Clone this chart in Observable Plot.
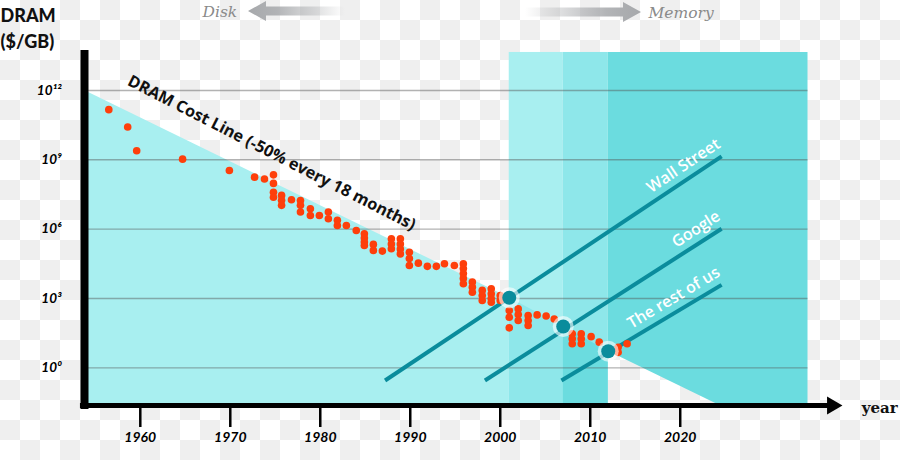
<!DOCTYPE html>
<html><head><meta charset="utf-8">
<script src="https://cdn.jsdelivr.net/npm/d3@7"></script>
<script src="https://cdn.jsdelivr.net/npm/@observablehq/plot@0.6"></script>
<style>
html,body{margin:0;padding:0;}
body{width:900px;height:460px;overflow:hidden;background-color:#fff;
  background-image:conic-gradient(#efefef 0 25%, #fff 0 50%, #efefef 0 75%, #fff 0);
  background-size:40px 40px;}
#chart svg{display:block}
</style></head>
<body><div id="chart"></div>
<script>
// ---- data (log10 of $/GB) ----
const dramYears = [1956.5, 1958.6, 1959.6, 1964.7, 1969.9, 1972.7, 1973.8, 1974.8, 1975.7, 1976.8,
  1977.8, 1978.9, 1979.9, 1980.9, 1981.9, 1982.9, 1984, 1984.9, 1985.9, 1986.9,
  1987.9, 1988.9, 1989.9, 1990.9, 1991.9, 1992.9, 1993.8, 1994.9, 1995.9, 1996.9,
  1998, 1999, 2000, 2001, 2002, 2003.1, 2004.1, 2005.1, 2006, 2008,
  2009, 2010.1, 2011, 2013.1, 2014.1];
const dramLogPrices = [[11.17],[10.42],[9.39],[9.03],[8.54],[8.25],[8.17],[8.35,7.98,7.60,7.38],[7.46,7.25,7.03],[7.27],
  [7.24,7.03,6.74],[6.88,6.59],[6.59],[6.74,6.45],[6.38,6.16],[6.16],[5.94],[5.80,5.62,5.44,5.29],[5.34,5.08],[5.05],
  [5.58,5.36,5.15],[5.58,5.36,5.14,4.93],[5.00,4.73,4.43],[4.53],[4.39],[4.39],[4.50],[4.43],[4.50,4.30,4.08,3.87,3.64],[3.71,3.49,3.27],
  [3.35,3.13,2.91],[3.42,3.20,3.00,2.84],[3.13,2.91],[2.48,2.19,1.73],[2.55,2.31,2.05],[2.26,2.05,1.83],[2.29],[2.24],[2.11],[1.47,1.26,1.04],
  [1.47,1.26,1.04],[1.35],[1.11],[0.89,0.67],[1.04]];

const costLineYears = [1953.8, 2001, 2007, 2012, 2024.4];
const costLineLogs  = [12.0, 3.03, 1.79, 0.72, -1.63];

const milestoneYears = [2001, 2007, 2012];
const milestoneLogs  = [3.03, 1.79, 0.72];

const trendNames     = ["Wall Street", "Google", "The rest of us"];
const trendStartYear = [1987.2, 1998.3, 2006.8];
const trendStartLog  = [-0.55, -0.55, -0.55];
const trendEndYear   = [2024.6, 2024.6, 2024.6];
const trendEndLog    = [9.15, 6.02, 3.59];

const eraStarts = [2001, 2007, 2012];
const eraEnd = 2034.2;

const xTicks = [1960, 1970, 1980, 1990, 2000, 2010, 2020];
const yTicks = [0, 3, 6, 9, 12];

// ---- layout ----
const width = 900, height = 460;
const marginLeft = 84, marginRight = 58.3, marginTop = 50, marginBottom = 55;
const xMin = 1953.8, xMax = 2038, yMin = -1.63, yMax = 13.73, bandTop = 13.645;
const pxPerYear = (width - marginLeft - marginRight) / (xMax - xMin);
const pxPerDecade = (height - marginTop - marginBottom) / (yMax - yMin);

const C1 = "#a8eff0", C2 = "#8ee7ea", C3 = "#6bdcdf";
const teal = "#0a8c9c", red = "#fe3f0b";

const dots = dramYears.flatMap((yr, i) => dramLogPrices[i].map(v => ({x: yr, y: v})));
const cost = costLineYears.map((x, i) => ({x, y: costLineLogs[i]}));
const seg = (a, b) => cost.filter(p => p.x >= a && p.x <= b);
const milestones = milestoneYears.map((x, i) => ({x, y: milestoneLogs[i]}));
const trends = trendNames.map((name, i) => ({
  name, x1: trendStartYear[i], y1: trendStartLog[i], x2: trendEndYear[i], y2: trendEndLog[i],
  angle: -Math.atan2((trendEndLog[i] - trendStartLog[i]) * pxPerDecade, (trendEndYear[i] - trendStartYear[i]) * pxPerYear) * 180 / Math.PI
}));
const costAngle = Math.atan2((costLineLogs[0] - costLineLogs[4]) * pxPerDecade, (costLineYears[4] - costLineYears[0]) * pxPerYear) * 180 / Math.PI;
const sup = {"0":"⁰","1":"¹","2":"²","3":"³","6":"⁶","9":"⁹"};
const supFormat = d => "10" + String(d).split("").map(c => sup[c]).join("");

// decorative gradient arrows above the chart
function topArrows() {
  const g = d3.create("svg:g");
  const defs = g.append("defs");
  const gl = defs.append("linearGradient").attr("id", "gDisk").attr("gradientUnits", "userSpaceOnUse")
    .attr("x1", 248).attr("x2", 345).attr("y1", 0).attr("y2", 0);
  gl.append("stop").attr("offset", 0).attr("stop-color", "#a6a8ab").attr("stop-opacity", 1);
  gl.append("stop").attr("offset", 0.3).attr("stop-color", "#a6a8ab").attr("stop-opacity", 0.85);
  gl.append("stop").attr("offset", 1).attr("stop-color", "#a6a8ab").attr("stop-opacity", 0);
  const gr = defs.append("linearGradient").attr("id", "gMem").attr("gradientUnits", "userSpaceOnUse")
    .attr("x1", 525).attr("x2", 641).attr("y1", 0).attr("y2", 0);
  gr.append("stop").attr("offset", 0).attr("stop-color", "#a6a8ab").attr("stop-opacity", 0);
  gr.append("stop").attr("offset", 0.7).attr("stop-color", "#a6a8ab").attr("stop-opacity", 0.85);
  gr.append("stop").attr("offset", 1).attr("stop-color", "#a6a8ab").attr("stop-opacity", 1);
  g.append("path").attr("d", "M248,11 L266,1 L266,6.5 L345,6.5 L345,15.5 L266,15.5 L266,21 Z").attr("fill", "url(#gDisk)");
  g.append("path").attr("d", "M641,12 L623,2 L623,7.5 L525,7.5 L525,16.5 L623,16.5 L623,22 Z").attr("fill", "url(#gMem)");
  return g.node();
}

const chart = Plot.plot({
  width, height, marginLeft, marginRight, marginTop, marginBottom,
  style: {background: "transparent", fontFamily: "Lato, 'DejaVu Sans', sans-serif", overflow: "visible"},
  x: {domain: [xMin, xMax], axis: null},
  y: {domain: [yMin, yMax], axis: null},
  marks: [
    // shaded regions
    Plot.areaY(seg(xMin, 2001), {x: "x", y1: yMin, y2: "y", fill: C1}),
    Plot.rect([0], {x1: eraStarts[0], x2: eraStarts[1], y1: yMin, y2: bandTop, fill: C1}),
    Plot.areaY(seg(2001, 2007), {x: "x", y1: yMin, y2: "y", fill: C2}),
    Plot.rect([0], {x1: eraStarts[1], x2: eraStarts[2], y1: yMin, y2: bandTop, fill: C2}),
    Plot.areaY(seg(2007, 2012), {x: "x", y1: yMin, y2: "y", fill: C3}),
    Plot.areaY([...seg(2012, 2030), {x: eraEnd, y: yMin}], {x: "x", y1: "y", y2: bandTop, fill: C3}),
    // gridlines
    Plot.ruleY(yTicks, {x1: xMin, x2: eraEnd, stroke: "#555", strokeOpacity: 0.45, strokeWidth: 1.4}),
    // trend lines
    Plot.link(trends, {x1: "x1", y1: "y1", x2: "x2", y2: "y2", stroke: teal, strokeWidth: 4}),
    Plot.text(trends, {x: "x2", y: "y2", text: "name", rotate: "angle", textAnchor: "end", dx: -3, dy: -14,
      fill: "white", fontSize: 16, fontWeight: 600, fontFamily: "'Open Sans', sans-serif"}),
    // DRAM price points
    Plot.dot(dots, {x: "x", y: "y", r: 3.8, fill: red}),
    // milestones
    Plot.dot(milestones, {x: "x", y: "y", r: 10.5, fill: "white", fillOpacity: 0.6}),
    Plot.dot(milestones, {x: "x", y: "y", r: 7, fill: teal}),
    // cost line label
    Plot.text(["DRAM Cost Line (-50% every 18 months)"], {x: 1974.6, y: 9.3, rotate: costAngle + 0.7,
      fontSize: 16.3, fontWeight: 700, fill: "#111", fontFamily: "'Open Sans', sans-serif"}),
    // axes
    Plot.ruleY([yMin], {x1: xMin - 0.45, x2: xMax - 1.5, stroke: "black", strokeWidth: 5}),
    Plot.dot([0], {x: xMax, y: yMin, symbol: "triangle", rotate: 90, r: 6.6, fill: "black", dx: -10}),
    Plot.ruleX([xMin], {y1: yMin - 0.17, y2: yMax, stroke: "black", strokeWidth: 8}),
    Plot.axisX({ticks: xTicks, tickSize: 22, tickPadding: 5, strokeWidth: 2.5, tickFormat: d => String(d),
      fontSize: 14, fontStyle: "italic", fontWeight: "bold", label: null}),
    Plot.axisY({ticks: yTicks, tickSize: 0, tickPadding: 23, tickFormat: supFormat,
      fontSize: 13.5, fontStyle: "italic", fontWeight: "bold", label: null}),
    // titles & annotations
    Plot.text(["DRAM"], {frameAnchor: "top-left", dx: -84, dy: -28.5, textAnchor: "start", lineAnchor: "bottom",
      fontSize: 18, fontWeight: 900, fill: "#111"}),
    Plot.text(["($/GB)"], {frameAnchor: "top-left", dx: -84, dy: -3, textAnchor: "start", lineAnchor: "bottom",
      fontSize: 18, fontWeight: 900, fill: "#111"}),
    Plot.text(["year"], {frameAnchor: "bottom-right", dx: 19.5, dy: 7.5, textAnchor: "start", lineAnchor: "bottom",
      fontSize: 15, fontWeight: "bold", fill: "#111", fontFamily: "'DejaVu Serif', serif"}),
    Plot.text(["Disk"], {frameAnchor: "top-left", dx: 202 - 84, dy: 16.5 - 50, textAnchor: "start", lineAnchor: "bottom",
      fontSize: 15.5, fontStyle: "italic", fill: "#8a8a8a", fontFamily: "'DejaVu Serif', serif"}),
    Plot.text(["Memory"], {frameAnchor: "top-left", dx: 648 - 84, dy: 17 - 50, textAnchor: "start", lineAnchor: "bottom",
      fontSize: 15.5, fontStyle: "italic", fill: "#8a8a8a", fontFamily: "'DejaVu Serif', serif"}),
    topArrows
  ]
});
document.getElementById("chart").appendChild(chart);
</script>
</body></html>
